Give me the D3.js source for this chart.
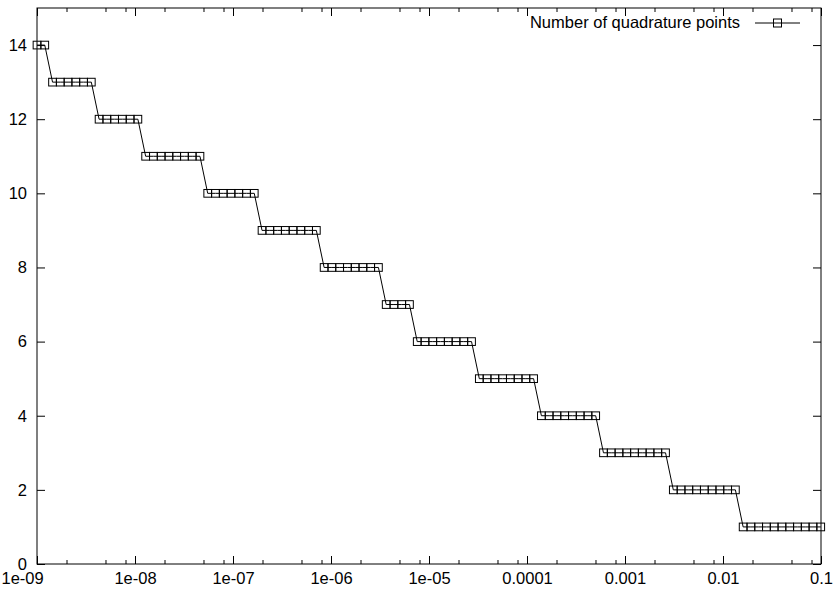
<!DOCTYPE html>
<html lang="en">
	<head>
		<meta charset="utf-8">
		<title>Quadrature points</title>
		<script type="text/javascript" src="https://cdn.jsdelivr.net/npm/d3@7"></script>
		<style type="text/css">
			body { margin: 0; background: #fff; }
			text { font-family: "Liberation Sans", Arial, sans-serif; font-size: 16.5px; fill: #000; }
		</style>
	</head>
	<body>
        <svg width="834" height="591"></svg>
		<script type="text/javascript">

            // tolerance values (x) and number of quadrature points (y)
            const eps = [
                1e-9, 1.2e-9, 1.44e-9, 1.728e-9, 2.074e-9, 2.488e-9, 2.986e-9, 3.583e-9, 4.300e-9, 5.160e-9,
                6.192e-9, 7.430e-9, 8.916e-9, 1.070e-8, 1.284e-8, 1.541e-8, 1.849e-8, 2.219e-8, 2.662e-8, 3.195e-8,
                3.834e-8, 4.601e-8, 5.521e-8, 6.625e-8, 7.950e-8, 9.540e-8, 1.145e-7, 1.374e-7, 1.648e-7, 1.978e-7,
                2.374e-7, 2.849e-7, 3.418e-7, 4.102e-7, 4.922e-7, 5.907e-7, 7.088e-7, 8.506e-7, 1.021e-6, 1.225e-6,
                1.470e-6, 1.764e-6, 2.116e-6, 2.540e-6, 3.048e-6, 3.657e-6, 4.389e-6, 5.266e-6, 6.320e-6, 7.584e-6,
                9.100e-6, 1.092e-5, 1.310e-5, 1.573e-5, 1.887e-5, 2.264e-5, 2.717e-5, 3.261e-5, 3.913e-5, 4.696e-5,
                5.635e-5, 6.762e-5, 8.114e-5, 9.737e-5, 1.168e-4, 1.402e-4, 1.683e-4, 2.019e-4, 2.423e-4, 2.907e-4,
                3.489e-4, 4.187e-4, 5.024e-4, 6.029e-4, 7.235e-4, 8.681e-4, 1.042e-3, 1.250e-3, 1.500e-3, 1.800e-3,
                2.160e-3, 2.592e-3, 3.111e-3, 3.733e-3, 4.479e-3, 5.375e-3, 6.450e-3, 7.740e-3, 9.289e-3, 1.115e-2,
                1.338e-2, 1.605e-2, 1.926e-2, 2.311e-2, 2.774e-2, 3.328e-2, 3.994e-2, 4.793e-2, 5.751e-2, 6.901e-2,
                8.282e-2, 9.938e-2
            ];
            const points = [
                14, 14,
                13, 13, 13, 13, 13, 13,
                12, 12, 12, 12, 12, 12,
                11, 11, 11, 11, 11, 11, 11, 11,
                10, 10, 10, 10, 10, 10, 10,
                9, 9, 9, 9, 9, 9, 9, 9,
                8, 8, 8, 8, 8, 8, 8, 8,
                7, 7, 7, 7,
                6, 6, 6, 6, 6, 6, 6, 6,
                5, 5, 5, 5, 5, 5, 5, 5,
                4, 4, 4, 4, 4, 4, 4, 4,
                3, 3, 3, 3, 3, 3, 3, 3, 3,
                2, 2, 2, 2, 2, 2, 2, 2, 2,
                1, 1, 1, 1, 1, 1, 1, 1, 1, 1, 1
            ];
            const xTicks = [1e-9, 1e-8, 1e-7, 1e-6, 1e-5, 1e-4, 1e-3, 1e-2, 1e-1];
            const xTickLabels = ['1e-09', '1e-08', '1e-07', '1e-06', '1e-05', '0.0001', '0.001', '0.01', '0.1'];
            const xMinorTicks = [];
            xTicks.slice(0, -1).forEach(t => [2, 5, 8].forEach(m => xMinorTicks.push(t * m)));
            const yTicks = [0, 2, 4, 6, 8, 10, 12, 14];
            const seriesName = 'Number of quadrature points';

            const data = eps.map((e, i) => ({ x: e, y: points[i] }));

            const margin = { left: 37, right: 13, top: 8, bottom: 27 };
            const svg = d3.select('svg');
            const width = +svg.attr('width');
            const height = +svg.attr('height');
            const innerWidth = width - margin.left - margin.right;
            const innerHeight = height - margin.top - margin.bottom;

            const g = svg.append('g')
                .attr('transform', `translate(${margin.left}, ${margin.top})`);

            const xScale = d3.scaleLog().domain([1e-9, 0.1]).range([0, innerWidth]);
            const yScale = d3.scaleLinear().domain([0, 15]).range([innerHeight, 0]);

            const strip = sel => sel.select('.domain').remove();

            // bottom axis with labels
            const xAxisG = g.append('g')
                .attr('transform', `translate(0, ${innerHeight})`)
                .call(d3.axisBottom(xScale).tickValues(xTicks)
                    .tickFormat((d, i) => xTickLabels[i]).tickSize(-8).tickPadding(8))
                .call(strip);
            // first label sits flush at the left edge, as in the original
            xAxisG.select('.tick text')
                .attr('text-anchor', 'start')
                .attr('x', -36);
            g.append('g')
                .attr('transform', `translate(0, ${innerHeight})`)
                .call(d3.axisBottom(xScale).tickValues(xMinorTicks).tickFormat('').tickSize(-4))
                .call(strip);
            // top mirror
            g.append('g')
                .call(d3.axisTop(xScale).tickValues(xTicks).tickFormat('').tickSize(-8))
                .call(strip);
            g.append('g')
                .call(d3.axisTop(xScale).tickValues(xMinorTicks).tickFormat('').tickSize(-4))
                .call(strip);
            // left / right
            g.append('g')
                .call(d3.axisLeft(yScale).tickValues(yTicks).tickSize(-8).tickPadding(10))
                .call(strip);
            g.append('g')
                .attr('transform', `translate(${innerWidth}, 0)`)
                .call(d3.axisRight(yScale).tickValues(yTicks).tickFormat('').tickSize(-8))
                .call(strip);

            g.selectAll('.tick text')
                .attr('font-family', null).attr('font-size', null);
            g.selectAll('.tick line').attr('stroke', '#000');

            g.append('rect')
                .attr('x', 0).attr('y', 0)
                .attr('width', innerWidth).attr('height', innerHeight)
                .attr('fill', 'none').attr('stroke', '#000');

            // series
            const line = d3.line().x(d => xScale(d.x)).y(d => yScale(d.y));
            g.append('path')
                .datum(data)
                .attr('d', line)
                .attr('fill', 'none')
                .attr('stroke', '#000')
                .attr('stroke-width', 1);

            const s = 7.7;
            g.selectAll('rect.pt').data(data)
                .enter().append('rect')
                .attr('class', 'pt')
                .attr('x', d => xScale(d.x) - s / 2)
                .attr('y', d => yScale(d.y) - s / 2)
                .attr('width', s).attr('height', s)
                .attr('fill', 'none')
                .attr('stroke', '#000')
                .attr('stroke-width', 1);

            // legend
            const lg = svg.append('g').attr('transform', 'translate(740, 23)');
            lg.append('text')
                .attr('x', 0).attr('y', 5)
                .attr('text-anchor', 'end')
                .text(seriesName);
            lg.append('line')
                .attr('x1', 15).attr('x2', 60)
                .attr('stroke', '#000');
            lg.append('rect')
                .attr('x', 37.5 - 4).attr('y', -4)
                .attr('width', 8).attr('height', 8)
                .attr('fill', 'none').attr('stroke', '#000');

		</script>
	</body>
</html>
